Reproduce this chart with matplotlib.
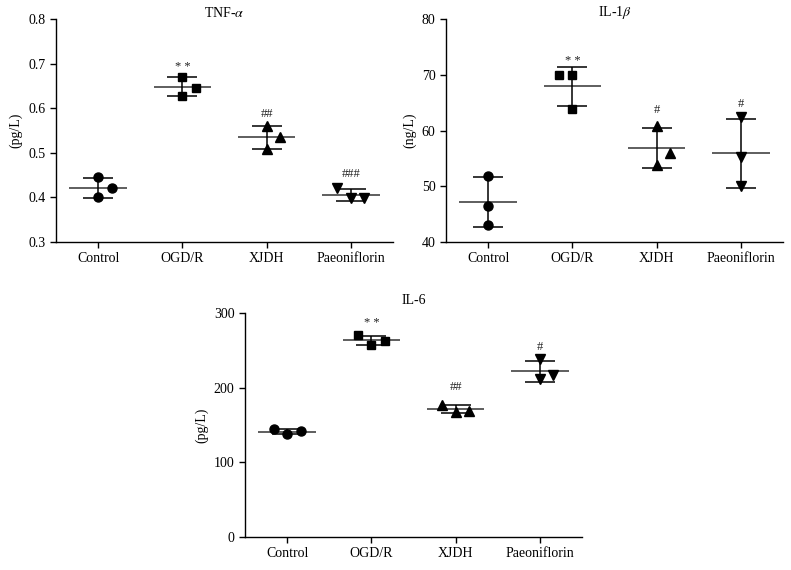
import numpy as np
import matplotlib
matplotlib.use('Agg')
import matplotlib.pyplot as plt

plt.rcParams['font.family'] = 'Liberation Serif'
plt.rcParams['mathtext.fontset'] = 'stix'
plt.rcParams['font.size'] = 10

groups = ['Control', 'OGD/R', 'XJDH', 'Paeoniflorin']
markers = ['o', 's', '^', 'v']

# TNF-alpha (pg/L): three replicates per group, with small horizontal jitter
tnf_vals = [[0.445, 0.421, 0.400],
            [0.670, 0.646, 0.628],
            [0.559, 0.535, 0.509],
            [0.421, 0.398, 0.398]]
tnf_jit = [[0, 0.16, 0], [0, 0.16, 0], [0, 0.16, 0], [-0.16, 0, 0.16]]
tnf_sig = ['', '* *', '##', '###']
tnf_sig_y = [None, 0.693, 0.586, 0.453]

# IL-1beta (ng/L)
il1_vals = [[51.9, 46.5, 43.0],
            [69.9, 69.9, 63.9],
            [60.8, 55.9, 53.8],
            [62.4, 55.2, 50.1]]
il1_jit = [[0, 0, 0], [-0.16, 0, 0], [0, 0.16, 0], [0, 0, 0]]
il1_sig = ['', '* *', '#', '#']
il1_sig_y = [None, 72.4, 63.7, 64.8]

# IL-6 (pg/L)
il6_vals = [[144.6, 137.4, 141.5],
            [270.0, 257.0, 263.0],
            [177.0, 168.0, 169.0],
            [238.0, 211.0, 217.0]]
il6_jit = [[-0.16, 0, 0.16], [-0.16, 0, 0.16], [-0.16, 0, 0.16], [0, 0, 0.16]]
il6_sig = ['', '* *', '##', '#']
il6_sig_y = [None, 286.6, 200.6, 255.0]


def panel(ax, vals, jit, sig, sig_y, title, ylabel, ylim, yticks, yfmt, title_y):
    for i, (v, j) in enumerate(zip(vals, jit)):
        v = np.array(v)
        m = v.mean()
        sd = v.std(ddof=1)
        ax.plot(i + np.array(j), v, linestyle='none', marker=markers[i],
                color='black', markersize=6.5 if markers[i] != 's' else 6, zorder=3)
        ax.hlines(m, i - 0.34, i + 0.34, color='#333333', lw=1.1, zorder=2)
        ax.errorbar(i, m, yerr=sd, fmt='none', ecolor='black', elinewidth=1.1,
                    capsize=10.5, capthick=1.1, zorder=2)
        if sig[i]:
            ax.text(i, sig_y[i], sig[i], ha='center', va='center', fontsize=9,
                    color='#222222')
    ax.set_xlim(-0.5, 3.5)
    ax.set_ylim(*ylim)
    ax.set_yticks(yticks)
    ax.set_yticklabels([yfmt.format(t) for t in yticks])
    ax.set_xticks(range(4))
    ax.set_xticklabels(groups)
    ax.spines['top'].set_visible(False)
    ax.spines['right'].set_visible(False)
    for s in ('left', 'bottom'):
        ax.spines[s].set_linewidth(1.0)
    ax.tick_params(length=4, width=1)
    ax.set_ylabel(ylabel)
    ax.text(0.5, title_y, title, transform=ax.transAxes, ha='center', va='center')


fig = plt.figure(figsize=(7.91, 5.70), dpi=100)
ax1 = fig.add_axes([56 / 791, 1 - 242 / 570, 337 / 791, 223 / 570])
ax2 = fig.add_axes([446 / 791, 1 - 242 / 570, 337 / 791, 223 / 570])
ax3 = fig.add_axes([245 / 791, 1 - 537 / 570, 337 / 791, 224 / 570])

panel(ax1, tnf_vals, tnf_jit, tnf_sig, tnf_sig_y, r'TNF-$\alpha$', '(pg/L)',
      (0.3, 0.8), [0.3, 0.4, 0.5, 0.6, 0.7, 0.8], '{:.1f}', 1.027)
panel(ax2, il1_vals, il1_jit, il1_sig, il1_sig_y, r'IL-1$\beta$', '(ng/L)',
      (40, 80), [40, 50, 60, 70, 80], '{:.0f}', 1.027)
panel(ax3, il6_vals, il6_jit, il6_sig, il6_sig_y, 'IL-6', '(pg/L)',
      (0, 300), [0, 100, 200, 300], '{:.0f}', 1.058)

fig.savefig('out.png', dpi=100)
